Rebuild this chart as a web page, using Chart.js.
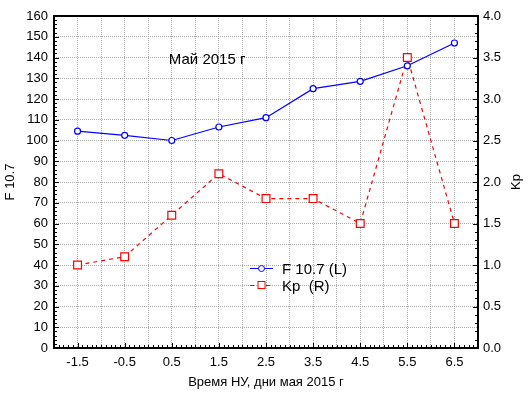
<!DOCTYPE html>
<html>
<head>
<meta charset="utf-8">
<script src="https://cdn.jsdelivr.net/npm/chart.js@4/dist/chart.umd.min.js"></script>
<style>
  html, body { margin: 0; padding: 0; background: #fff; }
  #wrap { width: 529px; height: 398px; }
</style>
</head>
<body>
<div id="wrap"><canvas id="chart" width="529" height="398"></canvas></div>
<script>
// days relative to new moon
const days = [-1.5, -0.5, 0.5, 1.5, 2.5, 3.5, 4.5, 5.5, 6.5];
const f107 = [104.5, 102.5, 100, 106.5, 111, 125, 128.5, 136, 147];
const kp = [1.0, 1.1, 1.6, 2.1, 1.8, 1.8, 1.5, 3.5, 1.5];

const chartTitle = 'Май 2015 г';
const xTitle = 'Время НУ, дни мая 2015 г';
const leftTitle = 'F 10.7';
const rightTitle = 'Kp';
const legendF = 'F 10.7 (L)';
const legendKp = 'Kp  (R)';

const font = 'Arial, "Liberation Sans", sans-serif';

// frame, minor ticks, inner title, legend, right title
const extras = {
  id: 'extras',
  afterDraw(chart) {
    const ctx = chart.ctx;
    const a = chart.chartArea;
    const x = chart.scales.x, y = chart.scales.y, y1 = chart.scales.y1;
    ctx.save();
    ctx.strokeStyle = '#000';
    ctx.lineWidth = 1;
    ctx.beginPath();
    for (let v = 0; v <= 160; v += 2) {
      const p = Math.round(y.getPixelForValue(v)) + 0.5;
      const len = v % 10 === 0 ? 5 : 3;
      ctx.moveTo(a.left, p); ctx.lineTo(a.left + len, p);
    }
    for (let i = 0; i <= 40; i++) {
      const p = Math.round(y1.getPixelForValue(i / 10)) + 0.5;
      const len = i % 5 === 0 ? 5 : 3;
      ctx.moveTo(a.right, p); ctx.lineTo(a.right - len, p);
    }
    for (let i = -20; i <= 70; i++) {
      const p = Math.round(x.getPixelForValue(i / 10)) + 0.5;
      const len = (Math.abs(i) % 10 === 5) ? 5 : 3;
      ctx.moveTo(p, a.bottom); ctx.lineTo(p, a.bottom - len);
    }
    ctx.stroke();

    ctx.lineWidth = 2;
    ctx.strokeRect(a.left, a.top, a.right - a.left, a.bottom - a.top);

    ctx.fillStyle = '#000';
    ctx.font = '15px ' + font;
    ctx.textAlign = 'center';
    ctx.textBaseline = 'middle';
    ctx.fillText(chartTitle, x.getPixelForValue(1.25), y.getPixelForValue(139));

    // right axis title, reading upward
    ctx.save();
    ctx.font = '13px ' + font;
    ctx.translate(516, (a.top + a.bottom) / 2);
    ctx.rotate(-Math.PI / 2);
    ctx.fillText(rightTitle, 0, 0);
    ctx.restore();

    // legend
    const lx = Math.round(x.getPixelForValue(2.16));
    const rows = [
      { ds: chart.data.datasets[0], text: legendF, y: Math.round(y.getPixelForValue(38.6)) + 0.5 },
      { ds: chart.data.datasets[1], text: legendKp, y: Math.round(y.getPixelForValue(30.4)) + 0.5 }
    ];
    rows.forEach(r => {
      ctx.strokeStyle = r.ds.borderColor;
      ctx.lineWidth = 1;
      ctx.setLineDash(r.ds.borderDash || []);
      ctx.beginPath();
      ctx.moveTo(lx, r.y); ctx.lineTo(lx + 23, r.y);
      ctx.stroke();
      ctx.setLineDash([]);
      ctx.fillStyle = '#fff';
      if (r.ds.pointStyle === 'rect') {
        ctx.fillRect(lx + 8, r.y - 4, 8, 8);
        ctx.strokeRect(lx + 8, r.y - 4, 7, 7);
      } else {
        ctx.beginPath();
        ctx.arc(lx + 11.5, r.y, 3, 0, Math.PI * 2);
        ctx.fill(); ctx.stroke();
      }
      ctx.fillStyle = '#000';
      ctx.font = '15px ' + font;
      ctx.textAlign = 'left';
      ctx.fillText(r.text, lx + 32, r.y + 1);
    });
    ctx.restore();
  }
};

new Chart(document.getElementById('chart'), {
  type: 'line',
  data: {
    datasets: [
      {
        label: legendF,
        data: days.map((d, i) => ({ x: d, y: f107[i] })),
        borderColor: '#0000ff',
        backgroundColor: '#ffffff',
        borderWidth: 1.2,
        pointStyle: 'circle',
        pointRadius: 3,
        pointBorderWidth: 1.2,
        yAxisID: 'y'
      },
      {
        label: legendKp,
        data: days.map((d, i) => ({ x: d, y: kp[i] })),
        borderColor: '#ff0000',
        backgroundColor: '#ffffff',
        borderWidth: 1.2,
        borderDash: [4, 4],
        pointStyle: 'rect',
        pointRadius: 5.5,
        pointBorderWidth: 1.2,
        yAxisID: 'y1'
      }
    ]
  },
  options: {
    responsive: false,
    animation: false,
    layout: { padding: { top: 16, left: 0, right: 0, bottom: 0 } },
    plugins: {
      legend: { display: false },
      tooltip: { enabled: false }
    },
    scales: {
      x: {
        type: 'linear',
        min: -2,
        max: 7,
        afterBuildTicks: s => {
          const t = [];
          for (let i = -4; i <= 14; i++) t.push({ value: i / 2 });
          s.ticks = t;
        },
        afterFit: s => { s.height = 50; },
        ticks: {
          color: '#000',
          font: { size: 13, family: font },
          padding: 7,
          maxRotation: 0,
          autoSkip: false,
          callback: v => (Math.abs(v * 2) % 2 === 1 ? v.toFixed(1) : '')
        },
        grid: { color: '#a8a8a8', lineWidth: 1, drawTicks: false },
        border: { display: false, dash: [1, 1] },
        title: {
          display: true,
          text: xTitle,
          color: '#000',
          font: { size: 13, family: font },
          padding: { top: 0, bottom: 8 }
        }
      },
      y: {
        position: 'left',
        min: 0,
        max: 160,
        afterFit: s => { s.width = 54; },
        ticks: {
          stepSize: 10,
          color: '#000',
          font: { size: 13, family: font },
          padding: 6
        },
        grid: { color: '#a8a8a8', lineWidth: 1, drawTicks: false },
        border: { display: false, dash: [1, 1] },
        title: {
          display: true,
          text: leftTitle,
          color: '#000',
          font: { size: 13, family: font },
          padding: { top: 3, bottom: 0 }
        }
      },
      y1: {
        position: 'right',
        min: 0,
        max: 4,
        afterFit: s => { s.width = 51; },
        ticks: {
          stepSize: 0.5,
          color: '#000',
          font: { size: 13, family: font },
          padding: 5,
          callback: v => v.toFixed(1)
        },
        grid: { drawOnChartArea: false, drawTicks: false },
        border: { display: false }
      }
    }
  },
  plugins: [extras]
});
</script>
</body>
</html>
